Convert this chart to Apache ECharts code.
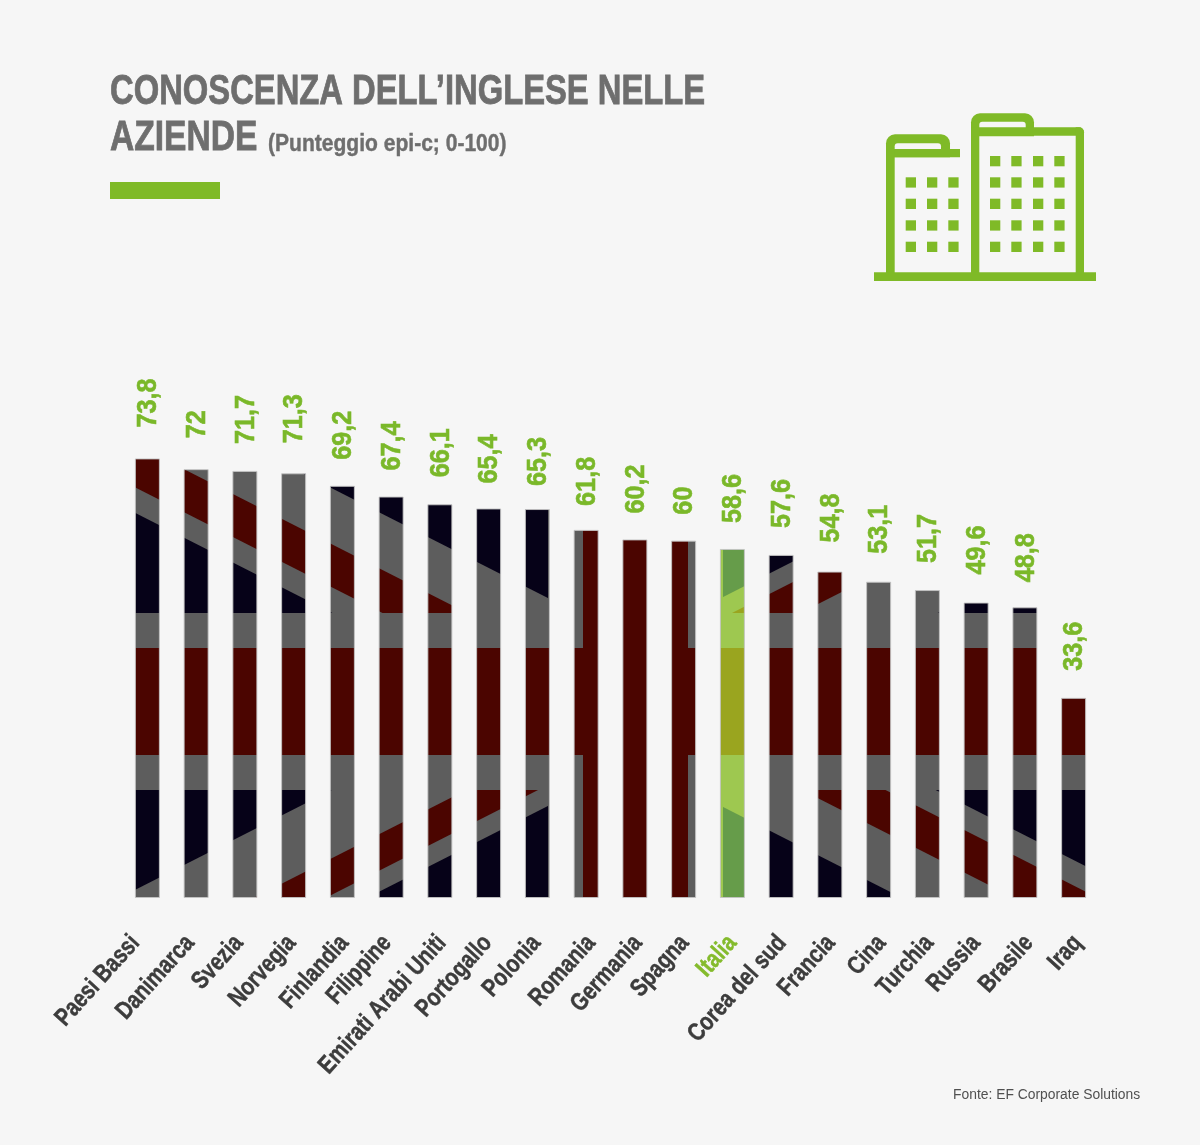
<!DOCTYPE html>
<html>

<head>
    <title></title>
    <meta charset="UTF-8">
    <script src="https://cdn.jsdelivr.net/npm/echarts@6/dist/echarts.min.js"></script>
</head>
<style type="text/css">
    html,
    body {
        height: 100%;
        width: 100%;
        margin: 0;
        padding: 0;
        background: #f6f6f6;
    }

    #main {
        height: 100%;
    }
</style>

<body>
    <div id="main"></div>
</body>
<script>
    var categories = ['Paesi Bassi', 'Danimarca', 'Svezia', 'Norvegia', 'Finlandia', 'Filippine', 'Emirati Arabi Uniti', 'Portogallo', 'Polonia', 'Romania', 'Germania', 'Spagna', 'Italia', 'Corea del sud', 'Francia', 'Cina', 'Turchia', 'Russia', 'Brasile', 'Iraq'];
    var scores = [73.8, 72, 71.7, 71.3, 69.2, 67.4, 66.1, 65.4, 65.3, 61.8, 60.2, 60, 58.6, 57.6, 54.8, 53.1, 51.7, 49.6, 48.8, 33.6];
    var highlighted = 'Italia';

    // labels are not evenly placed in the original
    var nameShift = [-13, -7, -7, -3, 1, -5, 1, -2, -2, 4, 2, 0, -1, 0, 0, 2, 1, -1, 3, 3];
    var valueGap = [32, 32, 28, 31, 27, 27, 28, 26, 24, 25, 27, 27, 27, 28, 30, 29, 28, 29, 26, 28];

    var bold = 'bold {size}px "Liberation Sans", sans-serif';
    var green = '#7ab829';

    function boldFont(size) {
        return bold.replace('{size}', size);
    }

    // the flag is one picture that shows through all the bars
    function flagPattern(navy, white, red) {
        var cv = document.createElement('canvas');
        cv.width = 1200;
        cv.height = 1145;
        var ctx = cv.getContext('2d');
        var cx = 635.5, cy = 701.5, k = 0.508;

        function band(left, top, slope, off1, off2, color) {
            ctx.save();
            ctx.beginPath();
            ctx.rect(left ? 0 : cx, top ? 0 : cy, left ? cx : 1200 - cx, top ? cy : 1145 - cy);
            ctx.clip();
            ctx.fillStyle = color;
            ctx.beginPath();
            ctx.moveTo(0, cy + off1 + slope * (0 - cx));
            ctx.lineTo(1200, cy + off1 + slope * (1200 - cx));
            ctx.lineTo(1200, cy + off2 + slope * (1200 - cx));
            ctx.lineTo(0, cy + off2 + slope * (0 - cx));
            ctx.closePath();
            ctx.fill();
            ctx.restore();
        }

        ctx.fillStyle = navy;
        ctx.fillRect(0, 0, 1200, 1145);

        band(true, true, k, -59, 65.5, white);
        band(true, true, k, -3, 40, red);
        band(false, true, -k, -60, 65, white);
        band(false, true, -k, -39.5, -4.8, red);
        band(true, false, -k, -65.8, 60, white);
        band(true, false, -k, 2.4, 39, red);
        band(false, false, k, -64, 61, white);
        band(false, false, k, -38.5, 4, red);

        ctx.fillStyle = white;
        ctx.fillRect(548, 0, 175, 1145);
        ctx.fillRect(0, 613, 1200, 177);
        ctx.fillStyle = red;
        ctx.fillRect(583, 0, 105, 1145);
        ctx.fillRect(0, 648, 1200, 107);
        return cv;
    }

    var flag = flagPattern('#060218', '#5d5d5d', '#4b0500');
    var flagItaly = flagPattern('#669c4a', '#9ec850', '#9aa51f');

    function box(x, y, w, h, r, fill) {
        return {
            type: 'rect',
            silent: true,
            shape: { x: x, y: y, width: w, height: h, r: r || 0 },
            style: { fill: fill || '#7fba27' }
        };
    }

    // building icon
    var icon = [
        box(874, 272.3, 222, 8.7),
        box(886, 134.3, 64, 23, [9, 9, 0, 0]),
        box(886, 149, 74, 8.3),
        box(886, 149, 8.7, 125),
        box(971, 113.3, 63, 23, [9, 9, 0, 0]),
        box(971, 127.3, 113, 8.4, [0, 5, 0, 0]),
        box(971, 127.3, 8.3, 147),
        box(1075.7, 127.3, 8.3, 147, [0, 5, 0, 0]),
        box(894.7, 143.3, 46.3, 5.7, [3, 3, 0, 0], '#f6f6f6'),
        box(979.3, 121.7, 46.4, 5.6, [3, 3, 0, 0], '#f6f6f6')
    ];
    [177.3, 198.7, 220.3, 241.7].forEach(function (y) {
        [905.7, 927, 948.3].forEach(function (x) {
            icon.push(box(x, y, 10.3, 10.3));
        });
    });
    [156, 177.3, 198.7, 220.3, 241.7].forEach(function (y) {
        [990, 1011.3, 1033, 1054.3].forEach(function (x) {
            icon.push(box(x, y, 10.3, 10.3));
        });
    });

    function text(str, x, y, scaleX, font, fill, heavy) {
        return {
            type: 'text',
            silent: true,
            x: x,
            y: y,
            scaleX: scaleX,
            style: {
                text: str,
                font: font,
                fill: fill,
                stroke: heavy ? fill : null,
                lineWidth: heavy || 0,
                textVerticalAlign: 'middle'
            }
        };
    }

    var myChart = echarts.init(document.getElementById('main'));

    var option = {
        animation: false,
        backgroundColor: '#f6f6f6',
        grid: { left: 123, top: 421.5, width: 975, height: 476.5 },
        xAxis: {
            type: 'category',
            data: categories,
            axisLine: { show: false },
            axisTick: { show: false },
            axisLabel: { show: false }
        },
        yAxis: { type: 'value', min: 0, max: 80, show: false },
        series: [{
            type: 'bar',
            barWidth: 25,
            data: scores.map(function (v, i) {
                return {
                    value: v,
                    itemStyle: {
                        color: { image: categories[i] === highlighted ? flagItaly : flag, repeat: 'no-repeat' }
                    }
                };
            }),
            itemStyle: { borderColor: 'rgba(195,195,195,0.9)', borderWidth: 1 }
        }, {
            // no condensed font here, so the labels are squeezed by hand
            type: 'custom',
            silent: true,
            data: scores.map(function (v, i) { return [i, v]; }),
            encode: { x: 0, y: 1 },
            renderItem: function (params, api) {
                var i = api.value(0);
                var v = api.value(1);
                var top = api.coord([i, v]);
                var base = api.coord([i, 0]);
                var name = categories[i];
                var nameColor = name === highlighted ? '#84bb2c' : '#3c3c3c';
                return {
                    type: 'group',
                    children: [{
                        type: 'text',
                        x: top[0] + 1,
                        y: top[1] - valueGap[i] + 1,
                        rotation: Math.PI / 2,
                        scaleX: 0.9,
                        style: {
                            text: String(v).replace('.', ','),
                            font: boldFont(28),
                            fill: green,
                            stroke: green,
                            lineWidth: 0.6,
                            textAlign: 'left',
                            textVerticalAlign: 'middle'
                        }
                    }, {
                        type: 'text',
                        x: base[0] + nameShift[i] + 1,
                        y: base[1] + 41,
                        rotation: 48 * Math.PI / 180,
                        scaleX: 0.81,
                        style: {
                            text: name,
                            font: boldFont(25),
                            fill: nameColor,
                            stroke: nameColor,
                            lineWidth: 0.5,
                            textAlign: 'right',
                            textVerticalAlign: 'middle'
                        }
                    }]
                };
            }
        }],
        graphic: [
            text('CONOSCENZA DELL’INGLESE NELLE', 110, 92.5, 0.78, boldFont(42), '#6e6e6e', 0.8),
            text('AZIENDE', 110, 138.5, 0.8, boldFont(42), '#6e6e6e', 0.8),
            text('(Punteggio epi-c; 0-100)', 268, 145, 0.915, boldFont(23), '#6e6e6e', 0.4),
            box(110, 182, 110, 17),
            text('Fonte: EF Corporate Solutions', 953, 1095, 0.99, '14px "Liberation Sans", sans-serif', '#505050')
        ].concat(icon)
    };

    myChart.setOption(option);
</script>

</html>
